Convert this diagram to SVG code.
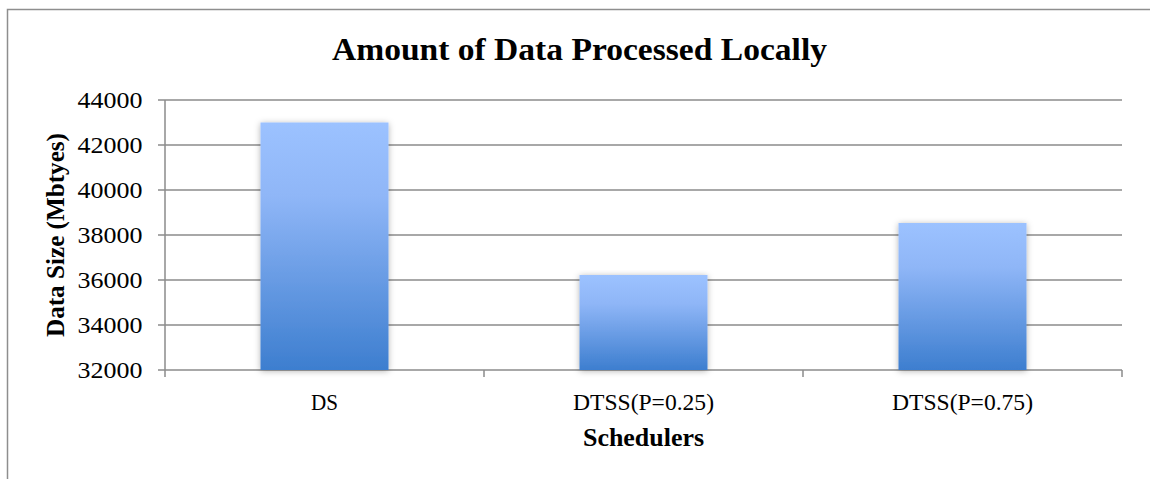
<svg xmlns="http://www.w3.org/2000/svg" width="1150" height="479" viewBox="0 0 1150 479">
  <style>
    .frame { fill: none; stroke: #8e8e8e; stroke-width: 1.5; }
    .grid { stroke: #8c8c8c; stroke-width: 1.5; fill: none; }
    .tick { font-family: "Liberation Serif", "Times New Roman", serif; font-size: 24px; fill: #000; text-anchor: end; }
    .cat { font-family: "Liberation Serif", "Times New Roman", serif; font-size: 24px; fill: #000; text-anchor: middle; }
    .title { font-family: "Liberation Serif", "Times New Roman", serif; font-weight: bold; fill: #000; text-anchor: middle; }
    .bar { fill: url(#barFill); filter: url(#barShadow); }
  </style>
  <defs>
    <linearGradient id="barFill" x1="0" y1="0" x2="0" y2="1">
      <stop offset="0" stop-color="#9cc2ff"/>
      <stop offset="0.3" stop-color="#8fb6f7"/>
      <stop offset="1" stop-color="#3d7ecf"/>
    </linearGradient>
    <filter id="barShadow" x="-10%" y="-5%" width="120%" height="115%">
      <feDropShadow dx="0" dy="1" stdDeviation="3" flood-color="#000" flood-opacity="0.3"/>
    </filter>
  </defs>

  <rect width="1150" height="479" fill="#fff"/>

  <!-- chart frame (left and top edges) -->
  <path class="frame" d="M7.5 479 V9.5 H1150"/>

  <!-- title -->
  <text class="title" x="579.5" y="60" font-size="32" textLength="495" lengthAdjust="spacingAndGlyphs">Amount of Data Processed Locally</text>

  <!-- gridlines and axes -->
  <g id="axes">
    <path class="grid" d="M158 100 H1122 M158 145 H1122 M158 190 H1122 M158 235 H1122 M158 280 H1122 M158 325 H1122 M158 370 H1122"/>
    <path class="grid" d="M165 100 V377 M484 370 V377 M803 370 V377 M1122 370 V377"/>
  </g>

  <!-- value axis labels -->
  <g id="y-labels">
    <text class="tick" x="142.5" y="108" textLength="65" lengthAdjust="spacingAndGlyphs">44000</text>
    <text class="tick" x="142.5" y="153" textLength="65" lengthAdjust="spacingAndGlyphs">42000</text>
    <text class="tick" x="142.5" y="198" textLength="65" lengthAdjust="spacingAndGlyphs">40000</text>
    <text class="tick" x="142.5" y="243" textLength="65" lengthAdjust="spacingAndGlyphs">38000</text>
    <text class="tick" x="142.5" y="288" textLength="65" lengthAdjust="spacingAndGlyphs">36000</text>
    <text class="tick" x="142.5" y="333" textLength="65" lengthAdjust="spacingAndGlyphs">34000</text>
    <text class="tick" x="142.5" y="378" textLength="65" lengthAdjust="spacingAndGlyphs">32000</text>
  </g>

  <!-- bars -->
  <g id="bar-ds">
    <rect class="bar" x="260.5" y="122.5" width="128" height="247.5"/>
  </g>
  <g id="bar-dtss-025">
    <rect class="bar" x="579.5" y="275" width="128" height="95"/>
  </g>
  <g id="bar-dtss-075">
    <rect class="bar" x="898.5" y="223" width="128" height="147"/>
  </g>

  <!-- category labels -->
  <g id="x-labels">
    <text class="cat" x="324.5" y="410" textLength="27" lengthAdjust="spacingAndGlyphs">DS</text>
    <text class="cat" x="643.5" y="410" textLength="141" lengthAdjust="spacingAndGlyphs">DTSS(P=0.25)</text>
    <text class="cat" x="962.5" y="410" textLength="141" lengthAdjust="spacingAndGlyphs">DTSS(P=0.75)</text>
  </g>

  <!-- axis titles -->
  <text class="title" x="643.5" y="446" font-size="25" textLength="121" lengthAdjust="spacingAndGlyphs">Schedulers</text>
  <text class="title" transform="translate(64 235) rotate(-90)" x="0" y="0" font-size="25" textLength="204" lengthAdjust="spacingAndGlyphs">Data Size (Mbtyes)</text>
</svg>
